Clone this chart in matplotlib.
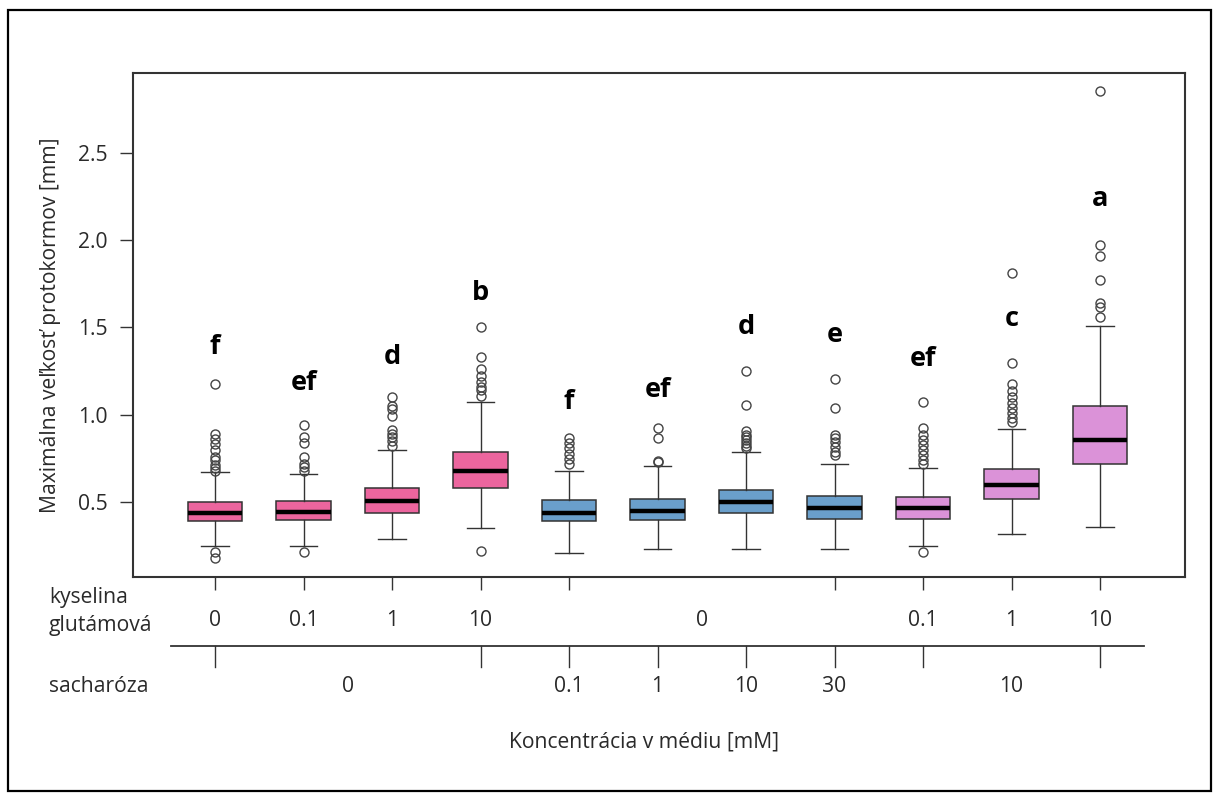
import matplotlib
matplotlib.use("Agg")
import matplotlib.pyplot as plt
from matplotlib.patches import Rectangle
from matplotlib.transforms import blended_transform_factory

plt.rcParams['font.family'] = ['Open Sans', 'DejaVu Sans']

# box statistics (11 treatments, left to right)
whislo = [0.248, 0.248, 0.29, 0.353, 0.21, 0.229, 0.229, 0.229, 0.248, 0.317, 0.355]
q1 = [0.39, 0.395, 0.437, 0.578, 0.39, 0.397, 0.435, 0.403, 0.403, 0.515, 0.718]
med = [0.435, 0.445, 0.505, 0.68, 0.435, 0.45, 0.498, 0.466, 0.464, 0.595, 0.856]
q3 = [0.50, 0.505, 0.58, 0.787, 0.51, 0.515, 0.569, 0.534, 0.527, 0.687, 1.05]
whishi = [0.67, 0.66, 0.80, 1.07, 0.68, 0.705, 0.787, 0.718, 0.697, 0.918, 1.51]
fliers = [
    [0.18, 0.215, 0.68, 0.693, 0.712, 0.74, 0.76, 0.798, 0.83, 0.859, 0.888, 1.174],
    [0.215, 0.68, 0.70, 0.72, 0.76, 0.84, 0.87, 0.94],
    [0.82, 0.85, 0.87, 0.89, 0.91, 0.99, 1.03, 1.05, 1.10],
    [0.22, 1.11, 1.14, 1.16, 1.19, 1.22, 1.26, 1.33, 1.505],
    [0.72, 0.745, 0.775, 0.81, 0.836, 0.868],
    [0.73, 0.735, 0.865, 0.926],
    [0.81, 0.823, 0.84, 0.855, 0.87, 0.885, 0.909, 1.056, 1.25],
    [0.769, 0.788, 0.817, 0.846, 0.865, 0.884, 1.04, 1.203],
    [0.215, 0.716, 0.741, 0.769, 0.798, 0.826, 0.855, 0.884, 0.922, 1.071],
    [0.96, 0.98, 1.008, 1.037, 1.069, 1.104, 1.138, 1.176, 1.295, 1.81],
    [1.557, 1.62, 1.64, 1.774, 1.908, 1.973, 2.855],
]
letters = ["f", "ef", "d", "b", "f", "ef", "d", "e", "ef", "c", "a"]
letter_y = [1.39, 1.18, 1.33, 1.70, 1.075, 1.14, 1.50, 1.457, 1.32, 1.55, 2.236]
groups = ["gl", "gl", "gl", "gl", "sa", "sa", "sa", "sa", "mix", "mix", "mix"]
colors = {"gl": "#EC659E", "sa": "#6A9FCB", "mix": "#DB92D8"}

# bottom annotation rows
glu_pos = [1, 2, 3, 4, 6.5, 9, 10, 11]
glu_lab = ["0", "0.1", "1", "10", "0", "0.1", "1", "10"]
glu_ticks = [1, 2, 3, 4, 5, 8, 9, 10, 11]
sac_pos = [2.5, 5, 6, 7, 8, 10]
sac_lab = ["0", "0.1", "1", "10", "30", "10"]
sac_ticks = [1, 4, 5, 6, 7, 8, 9, 11]

n = len(med)
positions = list(range(1, n + 1))
stats = [dict(whislo=whislo[i], q1=q1[i], med=med[i], q3=q3[i],
              whishi=whishi[i], fliers=fliers[i]) for i in range(n)]

W, H = 1218, 793
FS = 15.2
fig = plt.figure(figsize=(W / 100, H / 100), dpi=100)
fig.subplots_adjust(left=133 / W, right=1185 / W, top=1 - 73 / H, bottom=1 - 577 / H)
ax = fig.add_subplot(111)

ink = "#333333"
txt = "#2a2a2a"
bp = ax.bxp(stats, positions=positions, widths=0.62, patch_artist=True,
            boxprops=dict(edgecolor=ink, linewidth=1.1),
            medianprops=dict(color="black", linewidth=3.2, solid_capstyle="butt"),
            whiskerprops=dict(color=ink, linewidth=1.0),
            capprops=dict(color=ink, linewidth=1.0),
            capwidths=0.31,
            flierprops=dict(marker="o", markersize=6.5, markerfacecolor="none",
                            markeredgecolor="#444444", markeredgewidth=1.0))
for patch, g in zip(bp["boxes"], groups):
    patch.set_facecolor(colors[g])

for x, lab, y in zip(positions, letters, letter_y):
    ax.text(x, y, lab, ha="center", va="center", fontsize=19.5, fontweight="bold")

ax.set_xlim(0.073, 11.96)
ax.set_ylim(0.07, 2.958)
ax.set_yticks([0.5, 1.0, 1.5, 2.0, 2.5])
ax.set_yticklabels(["0.5", "1.0", "1.5", "2.0", "2.5"])
ax.set_xticks(glu_ticks)
ax.set_xticklabels([])
ax.tick_params(axis="both", length=9.4, width=1.0, color=ink, labelsize=FS,
               labelcolor=txt, pad=9)
for s in ax.spines.values():
    s.set_color(ink)
    s.set_linewidth(1.5)

ax.set_ylabel("Maximálna veľkosť protokormov [mm]", fontsize=FS, color=txt,
              labelpad=12)

tr = blended_transform_factory(ax.transData, ax.transAxes)
ah = 577 - 73  # axes height in px


def ay(py):
    return (577 - py) / ah


for x, lab in zip(glu_pos, glu_lab):
    ax.text(x, ay(620), lab, transform=tr, ha="center", va="center",
            fontsize=FS, color=txt)
ax.plot([0.5, n + 0.5], [ay(646), ay(646)], transform=tr, color=ink,
        lw=1.3, clip_on=False)
for x in sac_ticks:
    ax.plot([x, x], [ay(646), ay(667)], transform=tr, color=ink, lw=1.0,
            clip_on=False)
for x, lab in zip(sac_pos, sac_lab):
    ax.text(x, ay(686), lab, transform=tr, ha="center", va="center",
            fontsize=FS, color=txt)

fig.text(49 / W, 1 - 597 / H, "kyselina", ha="left", va="center", fontsize=FS,
         color=txt)
fig.text(49 / W, 1 - 626 / H, "glutámová", ha="left", va="center", fontsize=FS,
         color=txt)
fig.text(49 / W, 1 - 686 / H, "sacharóza", ha="left", va="center", fontsize=FS,
         color=txt)
fig.text(644 / W, 1 - 742 / H, "Koncentrácia v médiu [mM]", ha="center",
         va="center", fontsize=FS, color=txt)

fig.patches.append(Rectangle((7.5 / W, 2 / H), (1211 - 7.5) / W, (793 - 2 - 10) / H,
                             transform=fig.transFigure, fill=False,
                             edgecolor="black", linewidth=1.6))

fig.savefig("out.png", dpi=100)
